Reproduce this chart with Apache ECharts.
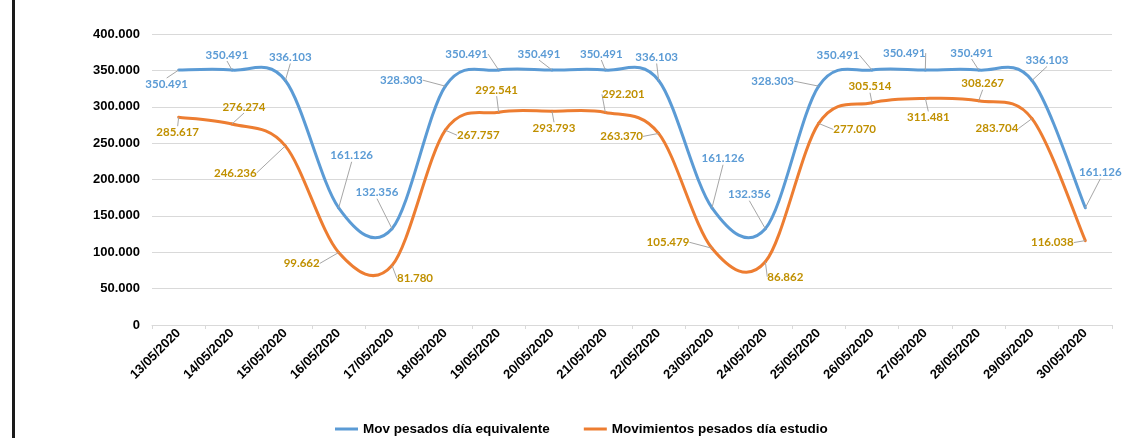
<!DOCTYPE html>
<html>
<head>
<meta charset="utf-8">
<script src="https://cdn.jsdelivr.net/npm/echarts@6/dist/echarts.min.js"></script>
<style>
  html, body { margin: 0; padding: 0; background: #ffffff; }
  #wrap { position: relative; width: 1135px; height: 438px; overflow: hidden; background: #fff; }
  #chart { position: absolute; left: 0; top: 0; width: 1135px; height: 438px; }
  #border { position: absolute; left: 12px; top: 0; width: 3px; height: 438px; background: #1a1a1a; }
</style>
</head>
<body>
<div id="wrap"><div id="chart"></div><div id="border"></div></div>
<script>
const categories = ['13/05/2020','14/05/2020','15/05/2020','16/05/2020','17/05/2020','18/05/2020','19/05/2020','20/05/2020','21/05/2020','22/05/2020','23/05/2020','24/05/2020','25/05/2020','26/05/2020','27/05/2020','28/05/2020','29/05/2020','30/05/2020'];
const movEquivalente = [350491,350491,336103,161126,132356,328303,350491,350491,350491,336103,161126,132356,328303,350491,350491,350491,336103,161126];
const movEstudio = [285617,276274,246236,99662,81780,267757,292541,293793,292201,263370,105479,86862,277070,305514,311481,308267,283704,116038];
const seriesNames = ['Mov pesados día equivalente','Movimientos pesados día estudio'];

// label offsets (pixels, relative to each point) — styling only
const blueOffsets = [[-12,14],[-5,-15],[5,-23],[13,-52],[-15,-36],[-44,-6],[-32,-16],[-13,-16],[-4,-16],[-2,-23],[11,-49],[-16,-34],[-46,-5],[-34,-15],[-21,-17],[-7,-17],[15,-20],[15,-35]];
const orangeOffsets = [[-1,15],[12,-17],[-50,27],[-37,11],[23,13],[33,5],[-2,-22],[2,17],[18,-18],[-37,3],[-44,-6],[20,15],[36,6],[-2,-16],[3,19],[4,-17],[-35,10],[-33,2]];

function fmt(v) {
  const s = Math.round(v).toString();
  return s.replace(/\B(?=(\d{3})+(?!\d))/g, '.');
}

const chart = echarts.init(document.getElementById('chart'), null, { renderer: 'canvas' });

// labels + legend carrier (line drawn invisible; curve drawn by custom series below)
function makeLabelSeries(name, data, color, labelColor, offsets) {
  return {
    name: name,
    type: 'line',
    data: data,
    symbol: 'circle',
    symbolSize: 0.1,
    showSymbol: true,
    z: 3,
    lineStyle: { color: color, width: 3, opacity: 0 },
    itemStyle: { color: color },
    label: {
      show: true,
      position: 'inside',
      formatter: p => fmt(p.value),
      color: labelColor,
      fontFamily: 'Lato',
      fontWeight: 'bold',
      fontSize: 11.5
    },
    labelLine: {
      show: true,
      lineStyle: { color: '#A6A6A6', width: 1 }
    },
    labelLayout: function (params) {
      const o = offsets[params.dataIndex];
      return { dx: o[0], dy: o[1] };
    },
    emphasis: { disabled: true },
    animation: false
  };
}

// smooth (Catmull-Rom style) curve through the data, positioned via api.coord
function makeCurveSeries(name, values, color) {
  const n = values.length;
  return {
    name: name,
    type: 'custom',
    coordinateSystem: 'cartesian2d',
    data: values.map((v, i) => [i, v]),
    encode: { x: 0, y: 1 },
    itemStyle: { color: color },
    z: 2,
    silent: true,
    animation: false,
    renderItem: function (params, api) {
      const i = params.dataIndex;
      if (i >= n - 1) return null;
      const P = j => {
        const k = Math.max(0, Math.min(n - 1, j));
        return api.coord([k, values[k]]);
      };
      const p0 = P(i - 1), p1 = P(i), p2 = P(i + 1), p3 = P(i + 2);
      const t = 1 / 6;
      return {
        type: 'bezierCurve',
        shape: {
          x1: p1[0], y1: p1[1],
          x2: p2[0], y2: p2[1],
          cpx1: p1[0] + (p2[0] - p0[0]) * t,
          cpy1: p1[1] + (p2[1] - p0[1]) * t,
          cpx2: p2[0] - (p3[0] - p1[0]) * t,
          cpy2: p2[1] - (p3[1] - p1[1]) * t
        },
        style: { stroke: color, lineWidth: 3, fill: null, lineCap: 'round' }
      };
    }
  };
}

chart.setOption({
  animation: false,
  backgroundColor: '#ffffff',
  color: ['#5B9BD5', '#ED7D31', '#5B9BD5', '#ED7D31'],
  grid: { left: 152, right: 23, top: 34, bottom: 113, containLabel: false },
  legend: {
    left: 330,
    top: 417,
    itemGap: 34,
    itemWidth: 23,
    itemHeight: 3,
    icon: 'rect',
    textStyle: { fontFamily: 'Liberation Sans', fontWeight: 'bold', fontSize: 13.5, color: '#000' },
    data: [
      { name: seriesNames[0], itemStyle: { color: '#5B9BD5' } },
      { name: seriesNames[1], itemStyle: { color: '#ED7D31' } }
    ]
  },
  xAxis: {
    type: 'category',
    data: categories,
    boundaryGap: true,
    axisLine: { show: true, lineStyle: { color: '#D9D9D9', width: 1 } },
    axisTick: { show: true, alignWithLabel: false, length: 4, lineStyle: { color: '#D9D9D9' } },
    axisLabel: {
      interval: 0,
      rotate: 45,
      margin: 6,
      color: '#000',
      fontFamily: 'Liberation Sans',
      fontWeight: 'bold',
      fontSize: 13
    }
  },
  yAxis: {
    type: 'value',
    min: 0,
    max: 400000,
    interval: 50000,
    axisLine: { show: false },
    axisTick: { show: false },
    splitLine: { show: true, lineStyle: { color: '#D9D9D9', width: 1 } },
    axisLabel: {
      margin: 12,
      color: '#000',
      fontFamily: 'Liberation Sans',
      fontWeight: 'bold',
      fontSize: 13,
      formatter: v => fmt(v)
    }
  },
  series: [
    makeCurveSeries(seriesNames[0], movEquivalente, '#5B9BD5'),
    makeCurveSeries(seriesNames[1], movEstudio, '#ED7D31'),
    makeLabelSeries(seriesNames[0], movEquivalente, '#5B9BD5', '#5B9BD5', blueOffsets),
    makeLabelSeries(seriesNames[1], movEstudio, '#ED7D31', '#C09000', orangeOffsets)
  ]
});
</script>
</body>
</html>
